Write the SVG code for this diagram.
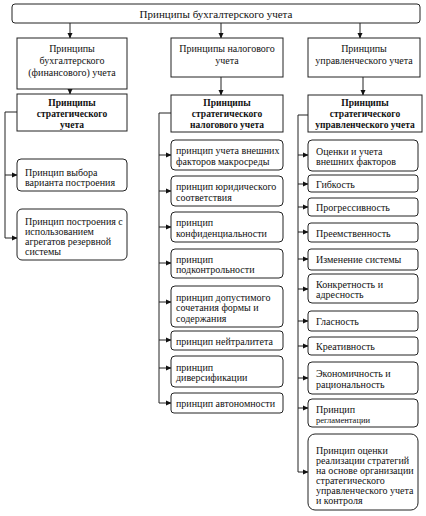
<svg xmlns="http://www.w3.org/2000/svg" width="426" height="516" viewBox="0 0 426 516">
<defs>
<marker id="ah" markerWidth="6" markerHeight="6" refX="5" refY="3" orient="auto" markerUnits="userSpaceOnUse">
<path d="M0,0.5 L5.5,3 L0,5.5 Z" fill="#111"/>
</marker>
<style>
.box{fill:#fff;stroke:#222;stroke-width:1}
.r{fill:#fff;stroke:#222;stroke-width:1}
.t{font-family:"Liberation Serif","Times New Roman",serif;font-size:10px;fill:#111}
.c{text-anchor:middle}
.b{font-weight:bold;font-size:9.5px}
.ln{stroke:#222;stroke-width:1;fill:none}
.ar{stroke:#222;stroke-width:1;fill:none;marker-end:url(#ah)}
</style>
</defs>
<rect width="426" height="516" fill="#fff"/>
<g id="connectors">
<line class="ar" x1="70" y1="23" x2="70" y2="38"/>
<line class="ar" x1="221" y1="23" x2="221" y2="38"/>
<line class="ar" x1="360" y1="23" x2="360" y2="38"/>
<line class="ar" x1="70" y1="89" x2="70" y2="94"/>
<line class="ar" x1="221" y1="77" x2="221" y2="95"/>
<line class="ar" x1="363" y1="77" x2="363" y2="95"/>
<polyline class="ln" points="17,112 5,112 5,238"/>
<line class="ar" x1="5" y1="175" x2="17" y2="175"/>
<line class="ar" x1="5" y1="238" x2="17" y2="238"/>
<polyline class="ln" points="171,113 159,113 159,403"/>
<line class="ar" x1="159" y1="155" x2="171" y2="155"/>
<line class="ar" x1="159" y1="191" x2="171" y2="191"/>
<line class="ar" x1="159" y1="227" x2="171" y2="227"/>
<line class="ar" x1="159" y1="263" x2="171" y2="263"/>
<line class="ar" x1="159" y1="302" x2="171" y2="302"/>
<line class="ar" x1="159" y1="340" x2="171" y2="340"/>
<line class="ar" x1="159" y1="368" x2="171" y2="368"/>
<line class="ar" x1="159" y1="403" x2="171" y2="403"/>
<polyline class="ln" points="308,115 298,115 298,472"/>
<line class="ar" x1="298" y1="155" x2="308" y2="155"/>
<line class="ar" x1="298" y1="184" x2="308" y2="184"/>
<line class="ar" x1="298" y1="207" x2="308" y2="207"/>
<line class="ar" x1="298" y1="232" x2="308" y2="232"/>
<line class="ar" x1="298" y1="259" x2="308" y2="259"/>
<line class="ar" x1="298" y1="289" x2="308" y2="289"/>
<line class="ar" x1="298" y1="321" x2="308" y2="321"/>
<line class="ar" x1="298" y1="346" x2="308" y2="346"/>
<line class="ar" x1="298" y1="378" x2="308" y2="378"/>
<line class="ar" x1="298" y1="408" x2="308" y2="408"/>
<line class="ar" x1="298" y1="472" x2="308" y2="472"/>
</g>
<g id="top">
<rect class="r" x="12" y="4" width="408" height="19" rx="3"/>
<text class="t c" x="216" y="18" style="font-size:11px">Принципы бухгалтерского учета</text>
</g>
<g id="fin">
<rect class="box" x="17" y="38" width="110" height="51"/>
<text class="t c" x="72" y="52">Принципы</text>
<text class="t c" x="72" y="64">бухгалтерского</text>
<text class="t c" x="72" y="76">(финансового) учета</text>
</g>
<g id="tax">
<rect class="box" x="171" y="38" width="112" height="39"/>
<text class="t c" x="227" y="52">Принципы налогового</text>
<text class="t c" x="227" y="63.5">учета</text>
</g>
<g id="mgmt">
<rect class="box" x="308" y="38" width="112" height="39"/>
<text class="t c" x="364" y="51.5">Принципы</text>
<text class="t c" x="364" y="63.5">управленческого учета</text>
</g>
<g id="fin-s">
<rect class="box" x="17" y="94" width="110" height="37"/>
<text class="t c b" x="72" y="106">Принципы</text>
<text class="t c b" x="72" y="117">стратегического</text>
<text class="t c b" x="72" y="128">учета</text>
</g>
<g id="tax-s">
<rect class="box" x="171" y="95" width="112" height="37"/>
<text class="t c b" x="227" y="105.5">Принципы</text>
<text class="t c b" x="227" y="116.5">стратегического</text>
<text class="t c b" x="227" y="127.5">налогового учета</text>
</g>
<g id="mgmt-s">
<rect class="box" x="308" y="95" width="114" height="37"/>
<text class="t c b" x="365" y="105.5">Принципы</text>
<text class="t c b" x="365" y="116.5">стратегического</text>
<text class="t c b" x="365" y="127.5">управленческого учета</text>
</g>
<g id="l1">
<rect class="r" x="17" y="159" width="110" height="32" rx="4"/>
<text class="t" x="25" y="175.5">Принцип выбора</text>
<text class="t" x="25" y="186">варианта построения</text>
</g>
<g id="l2">
<rect class="r" x="17" y="209" width="110" height="51" rx="5"/>
<text class="t" x="25" y="224.5">Принцип построения с</text>
<text class="t" x="25" y="234.5">использованием</text>
<text class="t" x="25" y="244.5">агрегатов резервной</text>
<text class="t" x="25" y="254.5">системы</text>
</g>
<g id="m1">
<rect class="r" x="171" y="140" width="112" height="30" rx="4"/>
<text class="t" x="176" y="154.3">принцип учета внешних</text>
<text class="t" x="176" y="164.8">факторов макросреды</text>
</g>
<g id="m2">
<rect class="r" x="171" y="176" width="112" height="30" rx="4"/>
<text class="t" x="176" y="190.3">принцип юридического</text>
<text class="t" x="176" y="200.8">соответствия</text>
</g>
<g id="m3">
<rect class="r" x="171" y="212" width="112" height="30" rx="4"/>
<text class="t" x="176" y="226.3">принцип</text>
<text class="t" x="176" y="236.8">конфиденциальности</text>
</g>
<g id="m4">
<rect class="r" x="171" y="249" width="112" height="29" rx="4"/>
<text class="t" x="176" y="262.8">принцип</text>
<text class="t" x="176" y="273.3">подконтрольности</text>
</g>
<g id="m5">
<rect class="r" x="171" y="286" width="112" height="41" rx="4"/>
<text class="t" x="176" y="300.5">принцип допустимого</text>
<text class="t" x="176" y="311">сочетания формы и</text>
<text class="t" x="176" y="321.5">содержания</text>
</g>
<g id="m6">
<rect class="r" x="171" y="331" width="112" height="19" rx="3"/>
<text class="t" x="176" y="344.5">принцип нейтралитета</text>
</g>
<g id="m7">
<rect class="r" x="171" y="356" width="112" height="31" rx="4"/>
<text class="t" x="176" y="370.8">принцип</text>
<text class="t" x="176" y="381.3">диверсификации</text>
</g>
<g id="m8">
<rect class="r" x="171" y="393" width="112" height="20" rx="3"/>
<text class="t" x="176" y="407">принцип автономности</text>
</g>
<g id="r1">
<rect class="r" x="308" y="140" width="110" height="31" rx="4"/>
<text class="t" x="316" y="154.8">Оценки и учета</text>
<text class="t" x="316" y="165.3">внешних факторов</text>
</g>
<g id="r2">
<rect class="r" x="308" y="175" width="110" height="17" rx="3"/>
<text class="t" x="316" y="187.5">Гибкость</text>
</g>
<g id="r3">
<rect class="r" x="308" y="198" width="110" height="18" rx="3"/>
<text class="t" x="316" y="211">Прогрессивность</text>
</g>
<g id="r4">
<rect class="r" x="308" y="223" width="110" height="19" rx="3"/>
<text class="t" x="316" y="236.5">Преемственность</text>
</g>
<g id="r5">
<rect class="r" x="308" y="249" width="110" height="21" rx="3"/>
<text class="t" x="316" y="263">Изменение системы</text>
</g>
<g id="r6">
<rect class="r" x="308" y="274" width="110" height="29" rx="4"/>
<text class="t" x="316" y="287.8">Конкретность и</text>
<text class="t" x="316" y="298.3">адресность</text>
</g>
<g id="r7">
<rect class="r" x="308" y="311" width="110" height="20" rx="3"/>
<text class="t" x="316" y="325">Гласность</text>
</g>
<g id="r8">
<rect class="r" x="308" y="337" width="110" height="18" rx="3"/>
<text class="t" x="316" y="350">Креативность</text>
</g>
<g id="r9">
<rect class="r" x="308" y="362" width="110" height="32" rx="4"/>
<text class="t" x="316" y="377.3">Экономичность и</text>
<text class="t" x="316" y="387.8">рациональность</text>
</g>
<g id="r10">
<rect class="r" x="308" y="399" width="110" height="28" rx="4"/>
<text class="t" x="316" y="412.5">Принцип</text>
<text class="t" x="316" y="423" style="font-size:8.5px">регламентации</text>
</g>
<g id="r11">
<rect class="r" x="308" y="434" width="110" height="76" rx="7"/>
<text class="t" x="316" y="453.5">Принцип оценки</text>
<text class="t" x="316" y="463.5">реализации стратегий</text>
<text class="t" x="316" y="473.5">на основе организации</text>
<text class="t" x="316" y="483.5">стратегического</text>
<text class="t" x="316" y="493.5">управленческого учета</text>
<text class="t" x="316" y="503.5">и контроля</text>
</g>
</svg>
